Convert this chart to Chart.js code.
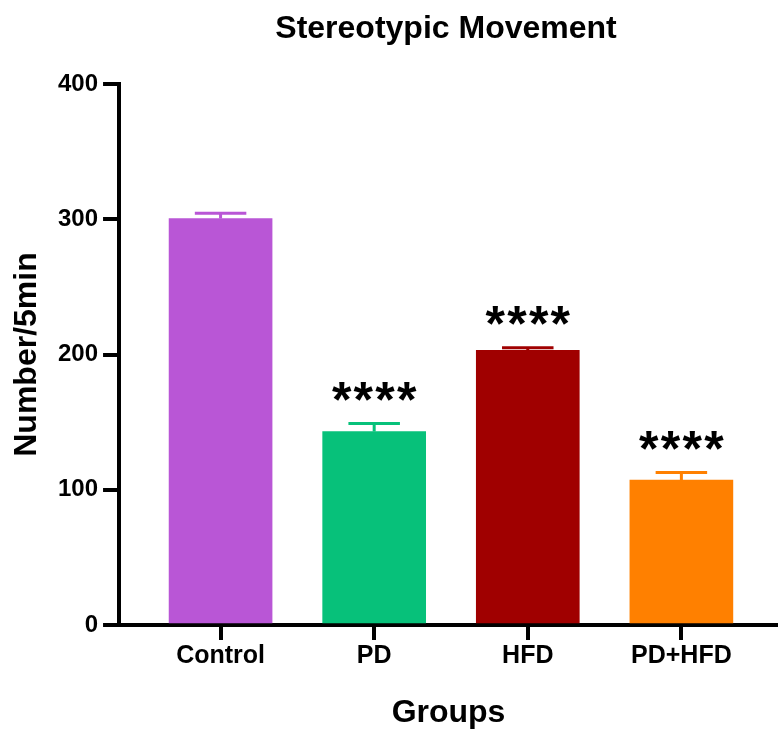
<!DOCTYPE html>
<html>
<head>
<meta charset="utf-8">
<script src="https://cdn.jsdelivr.net/npm/chart.js@4/dist/chart.umd.min.js"></script>
<style>
  html, body { margin: 0; padding: 0; background: #ffffff; }
  #wrap { width: 778px; height: 729px; position: relative; }
</style>
</head>
<body>
<div id="wrap"><canvas id="chart"></canvas></div>
<script>
// Group means and SEM of stereotypic movements per 5 minutes
const categories = ['Control', 'PD', 'HFD', 'PD+HFD'];
const means = [300.5, 143, 203, 107.2];
const sem = [4, 6, 2, 5.5];
const significance = ['', '****', '****', '****'];
const barColors = ['#B956D6', '#07C17A', '#A00000', '#FF8000'];
const yTicks = [0, 100, 200, 300, 400];
const chartTitle = 'Stereotypic Movement';

const FONT = '"Liberation Sans", Arial, Helvetica, sans-serif';

// Error bars (upper half only) drawn in each bar's colour
const errorBarPlugin = {
  id: 'errorBars',
  afterDatasetsDraw(chart) {
    const ctx = chart.ctx;
    const meta = chart.getDatasetMeta(0);
    const y = chart.scales.y;
    ctx.save();
    meta.data.forEach((bar, i) => {
      const top = y.getPixelForValue(means[i] + sem[i]);
      const base = y.getPixelForValue(means[i]);
      const half = bar.width / 4;
      ctx.strokeStyle = barColors[i];
      ctx.lineWidth = 3;
      ctx.beginPath();
      ctx.moveTo(bar.x, base);
      ctx.lineTo(bar.x, top);
      ctx.moveTo(bar.x - half, top);
      ctx.lineTo(bar.x + half, top);
      ctx.stroke();
    });
    ctx.restore();
  }
};

// Significance asterisks above the error bars
const starsPlugin = {
  id: 'stars',
  afterDatasetsDraw(chart) {
    const ctx = chart.ctx;
    const meta = chart.getDatasetMeta(0);
    const y = chart.scales.y;
    ctx.save();
    ctx.fillStyle = '#000';
    ctx.font = 'bold 50px ' + FONT;
    ctx.textAlign = 'center';
    ctx.textBaseline = 'alphabetic';
    meta.data.forEach((bar, i) => {
      const label = significance[i];
      if (!label) return;
      const capY = y.getPixelForValue(means[i] + sem[i]);
      const baseline = capY - 6.5;
      const step = 21.7;
      const n = label.length;
      for (let k = 0; k < n; k++) {
        const cx = bar.x + (k - (n - 1) / 2) * step;
        ctx.fillText(label[k], cx, baseline);
      }
    });
    ctx.restore();
  }
};

// Category tick marks below the x axis line
const xTickMarksPlugin = {
  id: 'xTickMarks',
  afterDraw(chart) {
    const ctx = chart.ctx;
    const x = chart.scales.x;
    const axisY = chart.chartArea.bottom;
    ctx.save();
    ctx.strokeStyle = '#000';
    ctx.lineWidth = 4;
    ctx.beginPath();
    categories.forEach((c, i) => {
      const px = Math.round(x.getPixelForValue(i + 1));
      ctx.moveTo(px, axisY);
      ctx.lineTo(px, axisY + 15);
    });
    ctx.stroke();
    ctx.restore();
  }
};

// Chart title centred over the plotting area
const plotTitlePlugin = {
  id: 'plotTitle',
  afterDraw(chart) {
    const ctx = chart.ctx;
    const area = chart.chartArea;
    ctx.save();
    ctx.fillStyle = '#000';
    ctx.font = 'bold 32px ' + FONT;
    ctx.textAlign = 'center';
    ctx.textBaseline = 'middle';
    ctx.fillText(chartTitle, (area.left + area.right) / 2 - 2.5, 29);
    ctx.restore();
  }
};

new Chart(document.getElementById('chart'), {
  type: 'bar',
  data: {
    datasets: [{
      data: means.map((v, i) => ({ x: i + 1, y: v })),
      backgroundColor: barColors,
      borderWidth: 0,
      barThickness: 103
    }]
  },
  options: {
    responsive: true,
    maintainAspectRatio: false,
    animation: false,
    layout: { padding: { left: 0, right: 0, top: 84, bottom: 0 } },
    plugins: {
      legend: { display: false },
      tooltip: { enabled: false },
      title: { display: false }
    },
    scales: {
      x: {
        type: 'linear',
        min: 0.339,
        max: 4.629,
        offset: false,
        afterBuildTicks(scale) {
          scale.ticks = categories.map((c, i) => ({ value: i + 1 }));
        },
        ticks: {
          color: '#000',
          font: { family: FONT, size: 25, weight: 'bold', lineHeight: 1.2 },
          padding: 3,
          maxRotation: 0,
          autoSkip: false,
          callback: (v) => categories[v - 1]
        },
        grid: {
          offset: false,
          drawOnChartArea: false,
          drawTicks: true,
          tickLength: 13,
          lineWidth: 4,
          tickWidth: 4,
          color: '#000',
          tickColor: '#000'
        },
        border: { display: true, color: '#000', width: 4 },
        title: {
          display: true,
          text: 'Groups',
          color: '#000',
          font: { family: FONT, size: 32, weight: 'bold', lineHeight: 1 },
          padding: { top: 23, bottom: 0 }
        }
      },
      y: {
        min: 0,
        max: 400,
        afterBuildTicks(scale) {
          scale.ticks = yTicks.map(v => ({ value: v }));
        },
        ticks: {
          color: '#000',
          font: { family: FONT, size: 24, weight: 'bold' },
          padding: 5
        },
        grid: {
          drawOnChartArea: false,
          drawTicks: true,
          tickLength: 16,
          lineWidth: 4,
          tickWidth: 4,
          color: '#000',
          tickColor: '#000'
        },
        border: { display: true, color: '#000', width: 4 },
        title: {
          display: true,
          text: 'Number/5min',
          color: '#000',
          font: { family: FONT, size: 32, weight: 'bold', lineHeight: 1 },
          padding: { top: 11, bottom: 10 }
        }
      }
    }
  },
  plugins: [errorBarPlugin, starsPlugin, xTickMarksPlugin, plotTitlePlugin]
});
</script>
</body>
</html>
